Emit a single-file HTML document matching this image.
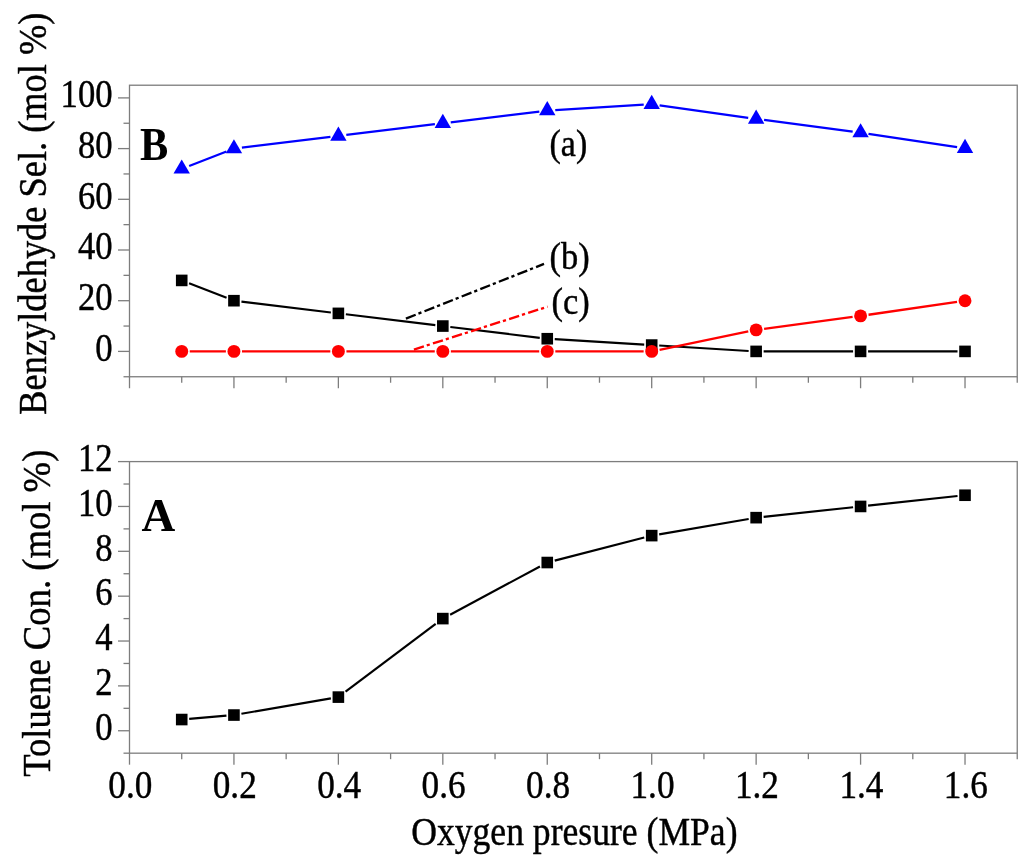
<!DOCTYPE html>
<html><head><meta charset="utf-8"><style>
html,body{margin:0;padding:0;background:#fff;}
body{width:1024px;height:863px;overflow:hidden;}
svg{display:block;will-change:transform;font-family:"Liberation Serif",serif;}
text{font-family:"Liberation Serif",serif;stroke:#000;stroke-width:0.45px;}
text[font-weight=bold]{stroke-width:0;}
</style></head><body>
<svg width="1024" height="863" viewBox="0 0 1024 863">
<rect width="1024" height="863" fill="#fff"/>
<rect x="129.50" y="85.22" width="887.74" height="291.53" fill="none" stroke="#7d7d7d" stroke-width="1.3"/>
<line x1="129.50" y1="376.75" x2="129.50" y2="388.25" stroke="#7d7d7d" stroke-width="1.3"/>
<line x1="181.72" y1="376.75" x2="181.72" y2="382.75" stroke="#7d7d7d" stroke-width="1.3"/>
<line x1="233.94" y1="376.75" x2="233.94" y2="388.25" stroke="#7d7d7d" stroke-width="1.3"/>
<line x1="286.16" y1="376.75" x2="286.16" y2="382.75" stroke="#7d7d7d" stroke-width="1.3"/>
<line x1="338.38" y1="376.75" x2="338.38" y2="388.25" stroke="#7d7d7d" stroke-width="1.3"/>
<line x1="390.60" y1="376.75" x2="390.60" y2="382.75" stroke="#7d7d7d" stroke-width="1.3"/>
<line x1="442.82" y1="376.75" x2="442.82" y2="388.25" stroke="#7d7d7d" stroke-width="1.3"/>
<line x1="495.04" y1="376.75" x2="495.04" y2="382.75" stroke="#7d7d7d" stroke-width="1.3"/>
<line x1="547.26" y1="376.75" x2="547.26" y2="388.25" stroke="#7d7d7d" stroke-width="1.3"/>
<line x1="599.48" y1="376.75" x2="599.48" y2="382.75" stroke="#7d7d7d" stroke-width="1.3"/>
<line x1="651.70" y1="376.75" x2="651.70" y2="388.25" stroke="#7d7d7d" stroke-width="1.3"/>
<line x1="703.92" y1="376.75" x2="703.92" y2="382.75" stroke="#7d7d7d" stroke-width="1.3"/>
<line x1="756.14" y1="376.75" x2="756.14" y2="388.25" stroke="#7d7d7d" stroke-width="1.3"/>
<line x1="808.36" y1="376.75" x2="808.36" y2="382.75" stroke="#7d7d7d" stroke-width="1.3"/>
<line x1="860.58" y1="376.75" x2="860.58" y2="388.25" stroke="#7d7d7d" stroke-width="1.3"/>
<line x1="912.80" y1="376.75" x2="912.80" y2="382.75" stroke="#7d7d7d" stroke-width="1.3"/>
<line x1="965.02" y1="376.75" x2="965.02" y2="388.25" stroke="#7d7d7d" stroke-width="1.3"/>
<line x1="1017.24" y1="376.75" x2="1017.24" y2="382.75" stroke="#7d7d7d" stroke-width="1.3"/>
<rect x="129.50" y="461.59" width="887.74" height="291.59" fill="none" stroke="#7d7d7d" stroke-width="1.3"/>
<line x1="129.50" y1="753.18" x2="129.50" y2="764.68" stroke="#7d7d7d" stroke-width="1.3"/>
<line x1="181.72" y1="753.18" x2="181.72" y2="759.18" stroke="#7d7d7d" stroke-width="1.3"/>
<line x1="233.94" y1="753.18" x2="233.94" y2="764.68" stroke="#7d7d7d" stroke-width="1.3"/>
<line x1="286.16" y1="753.18" x2="286.16" y2="759.18" stroke="#7d7d7d" stroke-width="1.3"/>
<line x1="338.38" y1="753.18" x2="338.38" y2="764.68" stroke="#7d7d7d" stroke-width="1.3"/>
<line x1="390.60" y1="753.18" x2="390.60" y2="759.18" stroke="#7d7d7d" stroke-width="1.3"/>
<line x1="442.82" y1="753.18" x2="442.82" y2="764.68" stroke="#7d7d7d" stroke-width="1.3"/>
<line x1="495.04" y1="753.18" x2="495.04" y2="759.18" stroke="#7d7d7d" stroke-width="1.3"/>
<line x1="547.26" y1="753.18" x2="547.26" y2="764.68" stroke="#7d7d7d" stroke-width="1.3"/>
<line x1="599.48" y1="753.18" x2="599.48" y2="759.18" stroke="#7d7d7d" stroke-width="1.3"/>
<line x1="651.70" y1="753.18" x2="651.70" y2="764.68" stroke="#7d7d7d" stroke-width="1.3"/>
<line x1="703.92" y1="753.18" x2="703.92" y2="759.18" stroke="#7d7d7d" stroke-width="1.3"/>
<line x1="756.14" y1="753.18" x2="756.14" y2="764.68" stroke="#7d7d7d" stroke-width="1.3"/>
<line x1="808.36" y1="753.18" x2="808.36" y2="759.18" stroke="#7d7d7d" stroke-width="1.3"/>
<line x1="860.58" y1="753.18" x2="860.58" y2="764.68" stroke="#7d7d7d" stroke-width="1.3"/>
<line x1="912.80" y1="753.18" x2="912.80" y2="759.18" stroke="#7d7d7d" stroke-width="1.3"/>
<line x1="965.02" y1="753.18" x2="965.02" y2="764.68" stroke="#7d7d7d" stroke-width="1.3"/>
<line x1="1017.24" y1="753.18" x2="1017.24" y2="759.18" stroke="#7d7d7d" stroke-width="1.3"/>
<line x1="123.50" y1="376.75" x2="129.50" y2="376.75" stroke="#7d7d7d" stroke-width="1.3"/>
<line x1="118.00" y1="351.40" x2="129.50" y2="351.40" stroke="#7d7d7d" stroke-width="1.3"/>
<line x1="123.50" y1="326.05" x2="129.50" y2="326.05" stroke="#7d7d7d" stroke-width="1.3"/>
<line x1="118.00" y1="300.70" x2="129.50" y2="300.70" stroke="#7d7d7d" stroke-width="1.3"/>
<line x1="123.50" y1="275.35" x2="129.50" y2="275.35" stroke="#7d7d7d" stroke-width="1.3"/>
<line x1="118.00" y1="250.00" x2="129.50" y2="250.00" stroke="#7d7d7d" stroke-width="1.3"/>
<line x1="123.50" y1="224.65" x2="129.50" y2="224.65" stroke="#7d7d7d" stroke-width="1.3"/>
<line x1="118.00" y1="199.30" x2="129.50" y2="199.30" stroke="#7d7d7d" stroke-width="1.3"/>
<line x1="123.50" y1="173.95" x2="129.50" y2="173.95" stroke="#7d7d7d" stroke-width="1.3"/>
<line x1="118.00" y1="148.60" x2="129.50" y2="148.60" stroke="#7d7d7d" stroke-width="1.3"/>
<line x1="123.50" y1="123.25" x2="129.50" y2="123.25" stroke="#7d7d7d" stroke-width="1.3"/>
<line x1="118.00" y1="97.90" x2="129.50" y2="97.90" stroke="#7d7d7d" stroke-width="1.3"/>
<line x1="123.50" y1="753.18" x2="129.50" y2="753.18" stroke="#7d7d7d" stroke-width="1.3"/>
<line x1="118.00" y1="730.75" x2="129.50" y2="730.75" stroke="#7d7d7d" stroke-width="1.3"/>
<line x1="123.50" y1="708.32" x2="129.50" y2="708.32" stroke="#7d7d7d" stroke-width="1.3"/>
<line x1="118.00" y1="685.89" x2="129.50" y2="685.89" stroke="#7d7d7d" stroke-width="1.3"/>
<line x1="123.50" y1="663.46" x2="129.50" y2="663.46" stroke="#7d7d7d" stroke-width="1.3"/>
<line x1="118.00" y1="641.03" x2="129.50" y2="641.03" stroke="#7d7d7d" stroke-width="1.3"/>
<line x1="123.50" y1="618.60" x2="129.50" y2="618.60" stroke="#7d7d7d" stroke-width="1.3"/>
<line x1="118.00" y1="596.17" x2="129.50" y2="596.17" stroke="#7d7d7d" stroke-width="1.3"/>
<line x1="123.50" y1="573.74" x2="129.50" y2="573.74" stroke="#7d7d7d" stroke-width="1.3"/>
<line x1="118.00" y1="551.31" x2="129.50" y2="551.31" stroke="#7d7d7d" stroke-width="1.3"/>
<line x1="123.50" y1="528.88" x2="129.50" y2="528.88" stroke="#7d7d7d" stroke-width="1.3"/>
<line x1="118.00" y1="506.45" x2="129.50" y2="506.45" stroke="#7d7d7d" stroke-width="1.3"/>
<line x1="123.50" y1="484.02" x2="129.50" y2="484.02" stroke="#7d7d7d" stroke-width="1.3"/>
<line x1="118.00" y1="461.59" x2="129.50" y2="461.59" stroke="#7d7d7d" stroke-width="1.3"/>
<line x1="189.10" y1="283.29" x2="226.56" y2="297.83" stroke="#000" stroke-width="2.15"/>
<line x1="241.43" y1="301.61" x2="330.89" y2="312.47" stroke="#000" stroke-width="2.15"/>
<line x1="345.87" y1="314.28" x2="435.33" y2="325.14" stroke="#000" stroke-width="2.15"/>
<line x1="450.31" y1="326.96" x2="539.77" y2="337.82" stroke="#000" stroke-width="2.15"/>
<line x1="554.76" y1="339.18" x2="644.20" y2="344.61" stroke="#000" stroke-width="2.15"/>
<line x1="659.20" y1="345.52" x2="748.64" y2="350.95" stroke="#000" stroke-width="2.15"/>
<line x1="763.64" y1="351.40" x2="853.08" y2="351.40" stroke="#000" stroke-width="2.15"/>
<line x1="868.08" y1="351.40" x2="957.52" y2="351.40" stroke="#000" stroke-width="2.15"/>
<rect x="175.92" y="274.62" width="11.6" height="11.6" fill="#000"/>
<rect x="228.14" y="294.90" width="11.6" height="11.6" fill="#000"/>
<rect x="332.58" y="307.57" width="11.6" height="11.6" fill="#000"/>
<rect x="437.02" y="320.25" width="11.6" height="11.6" fill="#000"/>
<rect x="541.46" y="332.92" width="11.6" height="11.6" fill="#000"/>
<rect x="645.90" y="339.26" width="11.6" height="11.6" fill="#000"/>
<rect x="750.34" y="345.60" width="11.6" height="11.6" fill="#000"/>
<rect x="854.78" y="345.60" width="11.6" height="11.6" fill="#000"/>
<rect x="959.22" y="345.60" width="11.6" height="11.6" fill="#000"/>
<line x1="189.21" y1="718.89" x2="226.45" y2="715.69" stroke="#000" stroke-width="2.15"/>
<line x1="241.42" y1="713.76" x2="330.90" y2="698.39" stroke="#000" stroke-width="2.15"/>
<line x1="345.54" y1="691.72" x2="435.66" y2="623.98" stroke="#000" stroke-width="2.15"/>
<line x1="450.12" y1="614.68" x2="539.96" y2="566.44" stroke="#000" stroke-width="2.15"/>
<line x1="554.71" y1="560.61" x2="644.25" y2="537.53" stroke="#000" stroke-width="2.15"/>
<line x1="659.18" y1="534.32" x2="748.66" y2="518.95" stroke="#000" stroke-width="2.15"/>
<line x1="763.63" y1="516.86" x2="853.09" y2="507.25" stroke="#000" stroke-width="2.15"/>
<line x1="868.07" y1="505.65" x2="957.53" y2="496.04" stroke="#000" stroke-width="2.15"/>
<rect x="175.92" y="713.74" width="11.6" height="11.6" fill="#000"/>
<rect x="228.14" y="709.25" width="11.6" height="11.6" fill="#000"/>
<rect x="332.58" y="691.31" width="11.6" height="11.6" fill="#000"/>
<rect x="437.02" y="612.80" width="11.6" height="11.6" fill="#000"/>
<rect x="541.46" y="556.73" width="11.6" height="11.6" fill="#000"/>
<rect x="645.90" y="529.81" width="11.6" height="11.6" fill="#000"/>
<rect x="750.34" y="511.86" width="11.6" height="11.6" fill="#000"/>
<rect x="854.78" y="500.65" width="11.6" height="11.6" fill="#000"/>
<rect x="959.22" y="489.44" width="11.6" height="11.6" fill="#000"/>
<line x1="405.9" y1="318.6" x2="544.0" y2="263.9" stroke="#000" stroke-width="2.35" stroke-dasharray="10.5 3 3.2 3.3"/>
<line x1="413.9" y1="349.6" x2="547.6" y2="306.7" stroke="#f00" stroke-width="2.35" stroke-dasharray="10.5 3 3.2 3.3"/>
<line x1="189.77" y1="351.40" x2="225.89" y2="351.40" stroke="#f00" stroke-width="2.3"/>
<line x1="241.99" y1="351.40" x2="330.33" y2="351.40" stroke="#f00" stroke-width="2.3"/>
<line x1="346.43" y1="351.40" x2="434.77" y2="351.40" stroke="#f00" stroke-width="2.3"/>
<line x1="450.87" y1="351.40" x2="539.21" y2="351.40" stroke="#f00" stroke-width="2.3"/>
<line x1="555.31" y1="351.40" x2="643.65" y2="351.40" stroke="#f00" stroke-width="2.3"/>
<line x1="659.58" y1="349.77" x2="748.26" y2="331.48" stroke="#f00" stroke-width="2.3"/>
<line x1="764.12" y1="328.79" x2="852.60" y2="316.98" stroke="#f00" stroke-width="2.3"/>
<line x1="868.55" y1="314.75" x2="957.05" y2="301.86" stroke="#f00" stroke-width="2.3"/>
<circle cx="181.72" cy="351.40" r="6.45" fill="#f00"/>
<circle cx="233.94" cy="351.40" r="6.45" fill="#f00"/>
<circle cx="338.38" cy="351.40" r="6.45" fill="#f00"/>
<circle cx="442.82" cy="351.40" r="6.45" fill="#f00"/>
<circle cx="547.26" cy="351.40" r="6.45" fill="#f00"/>
<circle cx="651.70" cy="351.40" r="6.45" fill="#f00"/>
<circle cx="756.14" cy="329.85" r="6.45" fill="#f00"/>
<circle cx="860.58" cy="315.91" r="6.45" fill="#f00"/>
<circle cx="965.02" cy="300.70" r="6.45" fill="#f00"/>
<line x1="189.18" y1="165.98" x2="226.48" y2="151.50" stroke="#00f" stroke-width="2.3"/>
<line x1="241.88" y1="147.64" x2="330.44" y2="136.89" stroke="#00f" stroke-width="2.3"/>
<line x1="346.32" y1="134.96" x2="434.88" y2="124.21" stroke="#00f" stroke-width="2.3"/>
<line x1="450.76" y1="122.29" x2="539.32" y2="111.54" stroke="#00f" stroke-width="2.3"/>
<line x1="555.25" y1="110.09" x2="643.71" y2="104.72" stroke="#00f" stroke-width="2.3"/>
<line x1="659.62" y1="105.35" x2="748.22" y2="117.83" stroke="#00f" stroke-width="2.3"/>
<line x1="764.07" y1="119.98" x2="852.65" y2="131.59" stroke="#00f" stroke-width="2.3"/>
<line x1="868.49" y1="133.81" x2="957.11" y2="147.04" stroke="#00f" stroke-width="2.3"/>
<polygon points="181.72,159.41 189.92,173.61 173.52,173.61" fill="#00f"/>
<polygon points="233.94,139.13 242.14,153.33 225.74,153.33" fill="#00f"/>
<polygon points="338.38,126.46 346.58,140.66 330.18,140.66" fill="#00f"/>
<polygon points="442.82,113.78 451.02,127.98 434.62,127.98" fill="#00f"/>
<polygon points="547.26,101.11 555.46,115.31 539.06,115.31" fill="#00f"/>
<polygon points="651.70,94.77 659.90,108.97 643.50,108.97" fill="#00f"/>
<polygon points="756.14,109.47 764.34,123.67 747.94,123.67" fill="#00f"/>
<polygon points="860.58,123.16 868.78,137.36 852.38,137.36" fill="#00f"/>
<polygon points="965.02,138.75 973.22,152.95 956.82,152.95" fill="#00f"/>
<text x="112.50" y="360.60" font-size="40.00" text-anchor="end" textLength="17.30" lengthAdjust="spacingAndGlyphs">0</text>
<text x="112.50" y="309.90" font-size="40.00" text-anchor="end" textLength="34.60" lengthAdjust="spacingAndGlyphs">20</text>
<text x="112.50" y="259.20" font-size="40.00" text-anchor="end" textLength="34.60" lengthAdjust="spacingAndGlyphs">40</text>
<text x="112.50" y="208.50" font-size="40.00" text-anchor="end" textLength="34.60" lengthAdjust="spacingAndGlyphs">60</text>
<text x="112.50" y="157.80" font-size="40.00" text-anchor="end" textLength="34.60" lengthAdjust="spacingAndGlyphs">80</text>
<text x="112.50" y="107.10" font-size="40.00" text-anchor="end" textLength="51.90" lengthAdjust="spacingAndGlyphs">100</text>
<text x="112.50" y="739.95" font-size="40.00" text-anchor="end" textLength="17.30" lengthAdjust="spacingAndGlyphs">0</text>
<text x="112.50" y="695.09" font-size="40.00" text-anchor="end" textLength="17.30" lengthAdjust="spacingAndGlyphs">2</text>
<text x="112.50" y="650.23" font-size="40.00" text-anchor="end" textLength="17.30" lengthAdjust="spacingAndGlyphs">4</text>
<text x="112.50" y="605.37" font-size="40.00" text-anchor="end" textLength="17.30" lengthAdjust="spacingAndGlyphs">6</text>
<text x="112.50" y="560.51" font-size="40.00" text-anchor="end" textLength="17.30" lengthAdjust="spacingAndGlyphs">8</text>
<text x="112.50" y="515.65" font-size="40.00" text-anchor="end" textLength="34.60" lengthAdjust="spacingAndGlyphs">10</text>
<text x="112.50" y="470.79" font-size="40.00" text-anchor="end" textLength="34.60" lengthAdjust="spacingAndGlyphs">12</text>
<text x="130.30" y="797.50" font-size="40.00" text-anchor="middle" textLength="44.00" lengthAdjust="spacingAndGlyphs">0.0</text>
<text x="234.74" y="797.50" font-size="40.00" text-anchor="middle" textLength="44.00" lengthAdjust="spacingAndGlyphs">0.2</text>
<text x="339.18" y="797.50" font-size="40.00" text-anchor="middle" textLength="44.00" lengthAdjust="spacingAndGlyphs">0.4</text>
<text x="443.62" y="797.50" font-size="40.00" text-anchor="middle" textLength="44.00" lengthAdjust="spacingAndGlyphs">0.6</text>
<text x="548.06" y="797.50" font-size="40.00" text-anchor="middle" textLength="44.00" lengthAdjust="spacingAndGlyphs">0.8</text>
<text x="652.50" y="797.50" font-size="40.00" text-anchor="middle" textLength="44.00" lengthAdjust="spacingAndGlyphs">1.0</text>
<text x="756.94" y="797.50" font-size="40.00" text-anchor="middle" textLength="44.00" lengthAdjust="spacingAndGlyphs">1.2</text>
<text x="861.38" y="797.50" font-size="40.00" text-anchor="middle" textLength="44.00" lengthAdjust="spacingAndGlyphs">1.4</text>
<text x="965.82" y="797.50" font-size="40.00" text-anchor="middle" textLength="44.00" lengthAdjust="spacingAndGlyphs">1.6</text>
<text x="411.23" y="844.78" font-size="41.00" font-weight="normal" textLength="326.28" lengthAdjust="spacingAndGlyphs">Oxygen presure (MPa)</text>
<text transform="translate(45.65,414.70) rotate(-90)" font-size="41.00" font-weight="normal" textLength="402.12" lengthAdjust="spacingAndGlyphs">Benzyldehyde Sel. (mol %)</text>
<text transform="translate(49.72,776.85) rotate(-90)" font-size="41.00" font-weight="normal" textLength="327.19" lengthAdjust="spacingAndGlyphs">Toluene Con. (mol %)</text>
<text x="139.93" y="160.09" font-size="47.00" font-weight="bold" textLength="28.24" lengthAdjust="spacingAndGlyphs">B</text>
<text x="141.42" y="530.91" font-size="47.00" font-weight="bold" textLength="33.78" lengthAdjust="spacingAndGlyphs">A</text>
<text x="549.54" y="156.11" font-size="38.50" font-weight="normal" textLength="37.67" lengthAdjust="spacingAndGlyphs">(a)</text>
<text x="549.54" y="268.68" font-size="38.50" font-weight="normal" textLength="40.19" lengthAdjust="spacingAndGlyphs">(b)</text>
<text x="551.48" y="313.54" font-size="38.50" font-weight="normal" textLength="38.24" lengthAdjust="spacingAndGlyphs">(c)</text>
</svg>
</body></html>
